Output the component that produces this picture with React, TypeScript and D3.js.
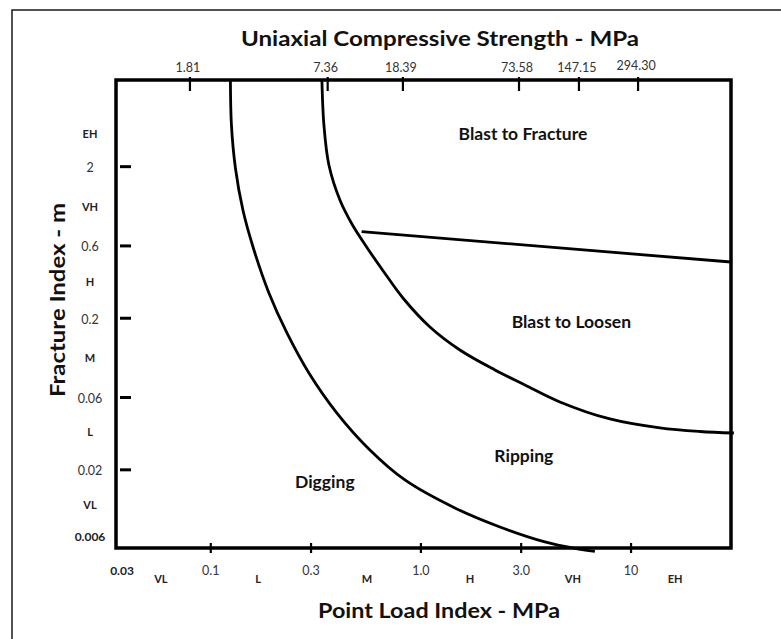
import React from "react";
import * as d3 from "d3";

// ---------- data ----------
// Point load index (MPa) tick values along the bottom axis
const bottomTickValues = [0.1, 0.3, 1, 3, 10];
const bottomTickLabels = ["0.1", "0.3", "1.0", "3.0", "10"];
// strength classes along the bottom axis (positions in MPa, point load)
const xClassNames = ["VL", "L", "M", "H", "VH", "EH"];
const xClassAt = [0.0579, 0.168, 0.553, 1.71, 5.29, 16.2];

// Uniaxial compressive strength labels on the top axis with the point-load value they sit at
const ucsLabels = ["1.81", "7.36", "18.39", "73.58", "147.15", "294.30"];
const ucsAtIs = [0.0796, 0.36, 0.821, 2.93, 5.65, 10.8];

// Fracture index (m) ticks
const yTickValues = [2, 0.6, 0.2, 0.06, 0.02];
const yTickLabels = ["2", "0.6", "0.2", "0.06", "0.02"];
const yClassNames = ["EH", "VH", "H", "M", "L", "VL"];
const yClassAt = [3.28, 1.084, 0.347, 0.1094, 0.0355, 0.0117];

// boundary curves [pointLoad MPa, fracture index m]
const diggingRipping: [number, number][] = [
  [0.124, 7.46], [0.1254, 3.77], [0.131, 1.96], [0.1422, 1.035], [0.1605, 0.564],
  [0.1891, 0.2936], [0.2304, 0.16], [0.2931, 0.0871], [0.3984, 0.0474], [0.5719, 0.02705],
  [0.8392, 0.01715], [1.451, 0.01121], [2.376, 0.0084], [3.891, 0.00669], [5.405, 0.00606],
  [6.73, 0.00579],
];
const rippingBlast: [number, number][] = [
  [0.338, 7.46], [0.3455, 3.77], [0.3649, 2.051], [0.4117, 1.205], [0.4696, 0.8372],
  [0.5475, 0.5993], [0.6668, 0.404], [0.8212, 0.272], [1.104, 0.1751], [1.533, 0.1235],
  [2.25, 0.0912], [3.126, 0.0726], [4.586, 0.0561], [7.933, 0.0433], [13.72, 0.0378],
  [21.27, 0.0358], [30.86, 0.035],
];
const fractureLoosen: [number, number][] = [
  [0.5222, 0.7447], [29.87, 0.47],
];

// region labels [pointLoad, m]
const regionNames = ["Blast to Fracture", "Blast to Loosen", "Ripping", "Digging"];
const regionAt: [number, number][] = [
  [3.06, 3.28], [5.2, 0.189], [3.09, 0.0245], [0.349, 0.0166],
];

const xDomain = [0.0354, 29.9];
const yDomain = [0.0061, 7.46];

export default function App() {
  const W = 781, H = 639;
  const L = 116, R = 731, T = 80, B = 548;
  const x = d3.scaleLog().domain(xDomain).range([L, R]);
  const y = d3.scaleLog().domain(yDomain).range([B, T]);
  const line = d3
    .line<[number, number]>()
    .x((d) => x(d[0]))
    .y((d) => y(d[1]))
    .curve(d3.curveCatmullRom.alpha(0.5));
  const font = "Lato, 'Open Sans', sans-serif";

  return (
    <svg
      width={W}
      height={H}
      style={{ position: "absolute", left: 0, top: 0, background: "#fff" }}
      fontFamily={font}
    >
      <rect x={0} y={0} width={W} height={H} fill="#fff" />
      {/* outer frame */}
      <rect x={12} y={10} width={900} height={800} fill="none" stroke="#1a1a1a" strokeWidth={1.5} />

      {/* title */}
      <text x={440} y={46} textAnchor="middle" fontSize={20} fontWeight={700} fill="#111"
        textLength={398} lengthAdjust="spacingAndGlyphs">
        Uniaxial Compressive Strength - MPa
      </text>
      {/* x title */}
      <text x={439} y={618} textAnchor="middle" fontSize={20} fontWeight={700} fill="#111"
        textLength={242} lengthAdjust="spacingAndGlyphs">
        Point Load Index - MPa
      </text>
      {/* y title */}
      <text transform={`translate(65,300) rotate(-90)`} textAnchor="middle" fontSize={20}
        fontWeight={700} fill="#111" textLength={194} lengthAdjust="spacingAndGlyphs">
        Fracture Index - m
      </text>

      {/* plot box */}
      <rect x={L} y={T} width={R - L} height={B - T} fill="none" stroke="#000" strokeWidth={3.5} />

      {/* top ticks + labels */}
      {ucsAtIs.map((v, i) => (
        <g key={"t" + i}>
          <line x1={x(v)} x2={x(v)} y1={T - 3} y2={T + 11} stroke="#000" strokeWidth={2.2} />
          <text x={x(v) - 2} y={i === 5 ? 70 : 72} textAnchor="middle" fontSize={12.5} fill="#333">
            {ucsLabels[i]}
          </text>
        </g>
      ))}

      {/* bottom ticks + labels */}
      {bottomTickValues.map((v, i) => (
        <g key={"b" + i}>
          <line x1={x(v)} x2={x(v)} y1={B - 5} y2={B + 5} stroke="#000" strokeWidth={2.2} />
          <text x={x(v)} y={575} textAnchor="middle" fontSize={12.5} fill="#333">
            {bottomTickLabels[i]}
          </text>
        </g>
      ))}
      <text x={L + 6} y={575} textAnchor="middle" fontSize={12} fontWeight={700} fill="#222">
        0.03
      </text>
      {xClassNames.map((c, i) => (
        <text key={"xc" + i} x={x(xClassAt[i])} y={583} textAnchor="middle" fontSize={11}
          fontWeight={700} fill="#222">
          {c}
        </text>
      ))}

      {/* y ticks + labels */}
      {yTickValues.map((v, i) => (
        <g key={"y" + i}>
          <line x1={L + 4} x2={L + 15} y1={y(v)} y2={y(v)} stroke="#000" strokeWidth={3} />
          <text x={90} y={y(v) + 5.5} textAnchor="middle" fontSize={12.5} fill="#333">
            {yTickLabels[i]}
          </text>
        </g>
      ))}
      <text x={90} y={B - 7} textAnchor="middle" fontSize={12} fontWeight={700} fill="#222">
        0.006
      </text>
      {yClassNames.map((c, i) => (
        <text key={"yc" + i} x={90} y={y(yClassAt[i]) + 4} textAnchor="middle" fontSize={11}
          fontWeight={700} fill="#222">
          {c}
        </text>
      ))}

      {/* boundaries */}
      <path d={line(diggingRipping) ?? ""} fill="none" stroke="#000" strokeWidth={2.8} />
      <path d={line(rippingBlast) ?? ""} fill="none" stroke="#000" strokeWidth={2.8} />
      <path d={line(fractureLoosen) ?? ""} fill="none" stroke="#000" strokeWidth={2.8} />

      {/* region labels */}
      {regionNames.map((n, i) => (
        <text key={"r" + i} x={x(regionAt[i][0])} y={y(regionAt[i][1]) + 6} textAnchor="middle"
          fontSize={17.5} fontWeight={700} fill="#111">
          {n}
        </text>
      ))}
    </svg>
  );
}
